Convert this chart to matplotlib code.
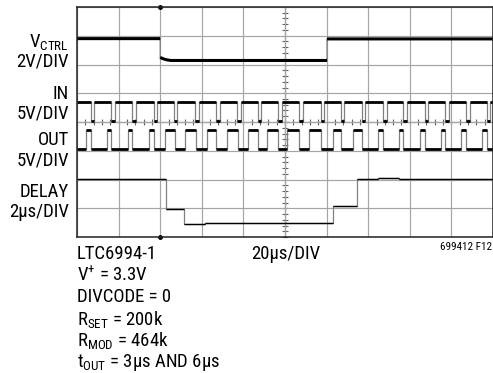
import numpy as np
import matplotlib
matplotlib.use('Agg')
import matplotlib.pyplot as plt
from matplotlib import font_manager

# --- scope readings (time in us) ---
IN_FALL = [6.5, 16.5, 26.5, 36.8, 46.5, 56.7, 66.8, 77.1, 87.0, 96.8,
           106.9, 117.1, 126.9, 137.1, 147.0, 156.8, 167.1, 177.0, 187.1, 196.9]
IN_RISE = [8.4, 18.4, 28.5, 38.5, 48.3, 58.6, 68.7, 79.0, 88.6, 98.5,
           108.5, 118.7, 128.5, 138.6, 148.8, 158.7, 168.7, 178.8, 188.8, 198.5]
OUT_RISE = [4.5, 14.4, 24.5, 34.5, 42.3, 51.9, 62.4, 72.0, 82.2, 91.2,
            101.1, 111.7, 122.9, 132.8, 144.7, 154.8, 164.7, 174.8, 184.7, 194.8]
OUT_FALL = [6.5, 16.5, 26.5, 36.8, 47.0, 57.0, 67.0, 77.2, 87.0, 96.8,
            106.9, 117.1, 126.9, 137.1, 147.0, 156.8, 167.1, 177.0, 187.1, 196.9]
LOGIC_V = 3.3

VCTRL_T = [0, 40, 40, 41, 43, 45, 120.2, 120.2, 200]
VCTRL_V = [1.8, 1.8, 0.5, 0.42, 0.33, 0.28, 0.28, 1.78, 1.78]

DELAY_EDGE = [42.8, 51.4, 61.5, 123.0, 134.6, 144.7, 154.8]
DELAY_US = [6.02, 3.95, 2.88, 2.94, 4.16, 6.02, 6.08, 6.02]

LABELS = [('V$_{\\mathregular{CTRL}}$', 42), ('2V/DIV', 61), ('IN', 94), ('5V/DIV', 114),
          ('OUT', 140), ('5V/DIV', 160), ('DELAY', 192), ('2µs/DIV', 212)]
NOTES = ['LTC6994-1', 'V$^{\\mathregular{+}}$ = 3.3V', 'DIVCODE = 0',
         'R$_{\\mathregular{SET}}$ = 200k', 'R$_{\\mathregular{MOD}}$ = 464k',
         't$_{\\mathregular{OUT}}$ = 3µs AND 6µs']

# channel position (div) and scale (units/div)
CH = {'vctrl': (6.0, 2.0), 'in': (4.03, 5.0), 'out': (3.06, 5.0), 'delay': (-1.0, 2.0)}


def pick_font(names):
    for n in names:
        try:
            font_manager.findfont(n, fallback_to_default=False)
            return n
        except ValueError:
            pass
    return 'DejaVu Sans'


fam = pick_font(['Liberation Sans Narrow', 'Arial Narrow', 'Roboto Condensed', 'Liberation Sans'])
plt.rcParams['font.family'] = fam
plt.rcParams['mathtext.fontset'] = 'custom'
plt.rcParams['mathtext.rm'] = fam
plt.rcParams['mathtext.default'] = 'regular'


def pulses(first, second, lo, hi, start):
    t, v = [0], [start]
    other = hi if start == lo else lo
    for a, b in zip(first, second):
        t += [a, a, b, b]
        v += [start, other, other, start]
    t.append(200)
    v.append(start)
    return t, v


def trace(ax, t, v, ch, lw, edge_lw=0.9):
    off, sc = CH[ch]
    y = [off + x / sc for x in v]
    ax.plot(t, y, color='#808080', lw=edge_lw, solid_capstyle='butt')
    tt, yy = [], []
    for i in range(len(t)):
        tt.append(t[i])
        yy.append(y[i])
        if i + 1 < len(t) and t[i + 1] == t[i]:
            tt.append(np.nan)
            yy.append(np.nan)
    ax.plot(tt, yy, color='black', lw=lw, solid_capstyle='butt')


W, H = 493, 373
fig = plt.figure(figsize=(W / 100, H / 100), dpi=100)
ax = fig.add_axes([77 / W, 1 - 237 / H, 416 / W, 230 / H])
ax.set_xlim(0, 200)
ax.set_ylim(0, 8)
ax.set_xticks(np.arange(0, 201, 20))
ax.set_yticks(np.arange(0, 9, 1))
ax.tick_params(length=0, labelbottom=False, labelleft=False)
ax.grid(True, color='#a5a5a5', lw=0.85)
for s in ax.spines.values():
    s.set_color('#222222')
    s.set_linewidth(1.1)

# centre graticule ticks
sy = ax.secondary_yaxis(0.5)
sy.set_yticks(np.arange(0, 8.01, 0.2))
sy.set_yticklabels([])
sy.tick_params(direction='inout', length=4, width=0.8, color='#666666')
sy.spines['left'].set_color('#a5a5a5')
sx = ax.secondary_xaxis(0.5)
sx.set_xticks(np.arange(0, 200.1, 4))
sx.set_xticklabels([])
sx.tick_params(direction='inout', length=4, width=0.8, color='#666666')
sx.spines['bottom'].set_color('#a5a5a5')

# trigger markers
ax.plot([40, 40], [8, 0], 'o', color='black', ms=2.5, clip_on=False)

trace(ax, VCTRL_T, VCTRL_V, 'vctrl', 2.2)
t, v = pulses(IN_FALL, IN_RISE, 0, LOGIC_V, LOGIC_V)
trace(ax, t, v, 'in', 2.0)
t, v = pulses(OUT_RISE, OUT_FALL, 0, LOGIC_V, 0)
trace(ax, t, v, 'out', 2.0)

dt, dv = [0], [DELAY_US[0]]
for e, a, b in zip(DELAY_EDGE, DELAY_US[:-1], DELAY_US[1:]):
    dt += [e, e]
    dv += [a, b]
dt.append(200)
dv.append(DELAY_US[-1])
trace(ax, dt, dv, 'delay', 1.0, edge_lw=0.9)

fs = 13.5
for s, y in LABELS:
    fig.text(69 / W, 1 - y / H, s, ha='right', va='center', fontsize=fs)
for i, s in enumerate(NOTES):
    fig.text(77 / W, 1 - (254 + 21.7 * i) / H, s, ha='left', va='center', fontsize=fs)
fig.text(251 / W, 1 - 254 / H, '20µs/DIV', ha='left', va='center', fontsize=fs)
fig.text(492 / W, 1 - 247 / H, '699412 F12', ha='right', va='center', fontsize=8)

fig.savefig('out.png', dpi=100)
